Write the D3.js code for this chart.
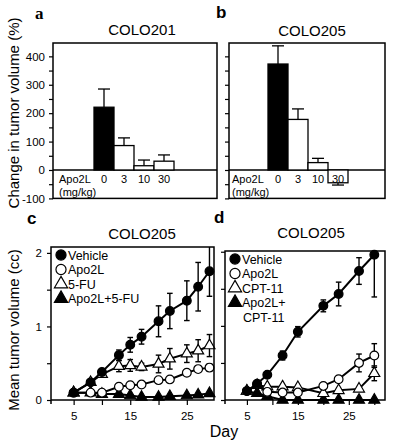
<!DOCTYPE html>
<html><head><meta charset="utf-8">
<script src="https://cdn.jsdelivr.net/npm/d3@7"></script>
<style>
body{margin:0;background:#fff;}
svg{display:block;font-family:"Liberation Sans",Arial,sans-serif;}
</style></head>
<body>
<script>
// ---------- DATA ----------
const doses = ["0","3","10","30"];
const colo201Change = [221, 86, 15, 31];
const colo201Err = [64, 27, 20, 22];
const colo205Change = [373, 178, 26, -45];
const colo205Err = [64, 37, 15, 8];
const barYTicks = [-100,-50,0,50,100,150,200,250,300,350,400];
const barYLabels = [-100,0,100,200,300,400];

const daysC = [5,8,10,13,15,17,20,22,25,27,29];
const cVehicle = [0.10,0.24,0.38,0.61,0.75,0.86,1.07,1.21,1.35,1.54,1.75];
const cVehicleErr = [0.01,0.03,0.04,0.07,0.10,0.10,0.21,0.24,0.27,0.33,0.34];
const cApo2L = [0.10,0.10,0.10,0.18,0.20,0.21,0.27,0.28,0.37,0.42,0.44];
const cApo2LErr = [0,0,0,0.01,0.02,0.02,0.02,0.03,0.03,0.04,0.05];
const c5FU = [0.10,0.24,0.35,0.46,0.47,0.45,0.49,0.56,0.63,0.67,0.74];
const c5FUErr = [0.01,0.02,0.03,0.075,0.08,0.05,0.12,0.14,0.12,0.15,0.15];
const cCombo = [0.10,0.10,0.08,0.08,0.06,0.04,0.04,0.05,0.06,0.07,0.09];
const cComboErr = [0,0,0,0,0,0,0,0,0,0,0];

const daysD = [5,7,9,12,15,20,23,27,30];
const dVehicle = [0.12,0.22,0.34,0.60,0.92,1.27,1.43,1.74,1.96];
const dVehicleErr = [0.01,0.02,0.03,0.06,0.07,0.08,0.16,0.18,0.57];
const dApo2L = [0.12,0.21,0.11,0.10,0.10,0.19,0.28,0.50,0.60];
const dApo2LErr = [0,0,0,0,0,0.02,0.04,0.12,0.16];
const dCPT = [0.12,0.20,0.18,0.18,0.17,0.09,0.13,0.15,0.36];
const dCPTErr = [0,0,0,0,0,0,0,0,0.10];
const dCombo = [0.12,0.09,0.05,0.0,0.0,0.0,0.0,0.0,0.0];
const dComboErr = [0,0,0,0,0,0,0,0,0];

const lineYTicks = [0,0.5,1,1.5,2];
const lineYLabels = [0,1,2];
const dayTicksC = [5,10,15,20,25];
const dayTicksD = [5,10,15,20,25,30];
const dayLabels = [5,15,25];

// ---------- DRAW ----------
const W = 408, H = 445;
const svg = d3.select("body").append("svg").attr("width",W).attr("height",H);
const FONT = 11.5;

function text(x,y,s,opts={}){
  const t = svg.append("text").attr("x",x).attr("y",y).text(s)
    .attr("font-size",opts.size||12).attr("fill","#000")
    .attr("text-anchor",opts.anchor||"start");
  if(opts.weight) t.attr("font-weight",opts.weight);
  if(opts.family) t.attr("font-family",opts.family);
  if(opts.rotate) t.attr("transform",`rotate(${opts.rotate},${x},${y})`);
  return t;
}

function styleAxis(g){
  g.select(".domain").remove();
  g.selectAll("line").attr("stroke","#000").attr("stroke-width",1.2);
  g.selectAll("text").attr("font-size",FONT).attr("fill","#000")
   .attr("font-family","'Liberation Sans',Arial,sans-serif");
}

// ---- bar panels ----
function barPanel(fx0,fx1,bx0,bx1,vals,errs,showLabels){
  const y = d3.scaleLinear().domain([-100,447]).range([198.4,43]);
  const x = d3.scaleBand().domain(doses).range([bx0,bx1]).padding(0);
  const ax = d3.axisLeft(y).tickValues(barYTicks).tickSize(4)
    .tickFormat(d => (showLabels && barYLabels.includes(d)) ? d : "");
  const g = svg.append("g").attr("transform",`translate(${fx0},0)`).call(ax);
  styleAxis(g);
  g.selectAll("text").attr("dx",-1);
  svg.append("line").attr("x1",fx0).attr("x2",fx1).attr("y1",y(0)).attr("y2",y(0))
    .attr("stroke","#000").attr("stroke-width",1.3);
  doses.forEach((d,i)=>{
    const v = vals[i], e = errs[i];
    const cx = x(d)+x.bandwidth()/2;
    const end = v>=0 ? v+e : v-e;
    svg.append("line").attr("x1",cx).attr("x2",cx).attr("y1",y(v)).attr("y2",y(end))
      .attr("stroke","#000").attr("stroke-width",1.3);
    svg.append("line").attr("x1",cx-6).attr("x2",cx+6).attr("y1",y(end)).attr("y2",y(end))
      .attr("stroke","#000").attr("stroke-width",1.3);
  });
  svg.selectAll(null).data(doses).enter().append("rect")
    .attr("x",d=>x(d)).attr("width",x.bandwidth())
    .attr("y",(d,i)=>y(Math.max(0,vals[i])))
    .attr("height",(d,i)=>Math.abs(y(vals[i])-y(0)))
    .attr("fill",(d,i)=>i===0?"#000":"#fff")
    .attr("stroke","#000").attr("stroke-width",1.3);
  doses.forEach(d=>{
    text(x(d)+x.bandwidth()/2, 183, d, {size:11,anchor:"middle"});
  });
  text(fx0+(showLabels?6:3),183,"Apo2L",{size:11});
  text(fx0+(showLabels?6:3),196,"(mg/kg)",{size:11});
  svg.append("rect").attr("x",fx0).attr("y",43).attr("width",fx1-fx0).attr("height",198.4-43)
    .attr("fill","none").attr("stroke","#000").attr("stroke-width",1.5);
}
barPanel(53,217,94,174,colo201Change,colo201Err,true);
barPanel(229,385,268,348,colo205Change,colo205Err,false);

text(142,35,"COLO201",{size:15,anchor:"middle"});
text(312,36,"COLO205",{size:15,anchor:"middle"});
text(35,19,"a",{size:17,weight:"bold",family:"'Liberation Serif','Times New Roman',serif"});
text(216,18,"b",{size:17,weight:"bold"});
text(27,224,"c",{size:17,weight:"bold"});
text(214,223,"d",{size:17,weight:"bold"});

text(19,113,"Change in tumor volume (%)",{size:15,anchor:"middle",rotate:-90});
text(19,330,"Mean tumor volume (cc)",{size:15,anchor:"middle",rotate:-90});
text(224,437,"Day",{size:16,anchor:"middle"});

// ---- line panels ----
const symCircle = d3.symbol().type(d3.symbolCircle);
const symTri = d3.symbol().type(d3.symbolTriangle);

function linePanel(id,fx0,fx1,fy0,yTop,xDomain,days,xTicks,series,showLabels){
  const y = d3.scaleLinear().domain([0,yTop]).range([400,fy0]);
  const x = d3.scaleLinear().domain(xDomain).range([fx0,fx1]);
  const ay = d3.axisLeft(y).tickValues(lineYTicks).tickSize(4)
    .tickFormat(d => (showLabels && lineYLabels.includes(d)) ? d : "");
  const gy = svg.append("g").attr("transform",`translate(${fx0},0)`).call(ay);
  styleAxis(gy); gy.selectAll("text").attr("dx",-2);
  const axx = d3.axisBottom(x).tickValues(xTicks).tickSize(5)
    .tickFormat(d => dayLabels.includes(d) ? d : "");
  const gx = svg.append("g").attr("transform",`translate(0,400)`).call(axx);
  styleAxis(gx); gx.selectAll("text").attr("dy","1.05em");
  svg.append("clipPath").attr("id",id).append("rect")
    .attr("x",fx0).attr("y",fy0).attr("width",fx1-fx0).attr("height",420-fy0);
  const line = d3.line().x((d,i)=>x(days[i])).y(d=>y(d));
  series.slice().reverse().forEach(s=>{
    const eg = svg.append("g").attr("clip-path",`url(#${id})`);
    s.vals.forEach((v,i)=>{
      const e = s.errs[i]; if(!e || e<0.025) return;
      const cx = x(days[i]);
      eg.append("line").attr("x1",cx).attr("x2",cx).attr("y1",y(v+e)).attr("y2",y(v-e))
        .attr("stroke","#000").attr("stroke-width",1.4);
      [v+e,v-e].forEach(t=>eg.append("line").attr("x1",cx-2.8).attr("x2",cx+2.8)
        .attr("y1",y(t)).attr("y2",y(t)).attr("stroke","#000").attr("stroke-width",1.4));
    });
    svg.append("path").datum(s.vals).attr("d",line).attr("fill","none")
      .attr("stroke","#000").attr("stroke-width",2);
    svg.selectAll(null).data(s.vals).enter().append("path")
      .attr("d",(s.shape==="circle"?symCircle.size(60):symTri.size(52))())
      .attr("transform",(d,i)=>`translate(${x(days[i])},${y(d)})`)
      .attr("fill",s.filled?"#000":"#fff").attr("stroke","#000").attr("stroke-width",1.2);
  });
  svg.append("rect").attr("x",fx0).attr("y",fy0).attr("width",fx1-fx0).attr("height",400-fy0)
    .attr("fill","none").attr("stroke","#000").attr("stroke-width",1.5);
  svg.append("line").attr("x1",fx0).attr("x2",fx0).attr("y1",400).attr("y2",404)
    .attr("stroke","#000").attr("stroke-width",1.5);
  series.forEach((s,i)=>{
    const ly = fy0+8+i*14.5;
    svg.append("path").attr("d",(s.shape==="circle"?symCircle.size(80):symTri.size(75))())
      .attr("transform",`translate(${fx0+10},${ly})`)
      .attr("fill",s.filled?"#000":"#fff").attr("stroke","#000").attr("stroke-width",1.2);
    s.label.forEach((l,k)=>text(fx0+(k===0?17:18), ly+4.5+k*14.5, l, {size:12.5}));
  });
}

linePanel("clipC",51,214,247,2.08,[1,29.8],daysC,dayTicksC,[
  {label:["Vehicle"],vals:cVehicle,errs:cVehicleErr,shape:"circle",filled:true},
  {label:["Apo2L"],vals:cApo2L,errs:cApo2LErr,shape:"circle",filled:false},
  {label:["5-FU"],vals:c5FU,errs:c5FUErr,shape:"tri",filled:false},
  {label:["Apo2L+5-FU"],vals:cCombo,errs:cComboErr,shape:"tri",filled:true}
],true);
text(142,239,"COLO205",{size:15,anchor:"middle"});

linePanel("clipD",225,385,251,2.01,[0.7,32.1],daysD,dayTicksD,[
  {label:["Vehicle"],vals:dVehicle,errs:dVehicleErr,shape:"circle",filled:true},
  {label:["Apo2L"],vals:dApo2L,errs:dApo2LErr,shape:"circle",filled:false},
  {label:["CPT-11"],vals:dCPT,errs:dCPTErr,shape:"tri",filled:false},
  {label:["Apo2L+","CPT-11"],vals:dCombo,errs:dComboErr,shape:"tri",filled:true}
],false);
text(311,238,"COLO205",{size:15,anchor:"middle"});
</script>
</body></html>
